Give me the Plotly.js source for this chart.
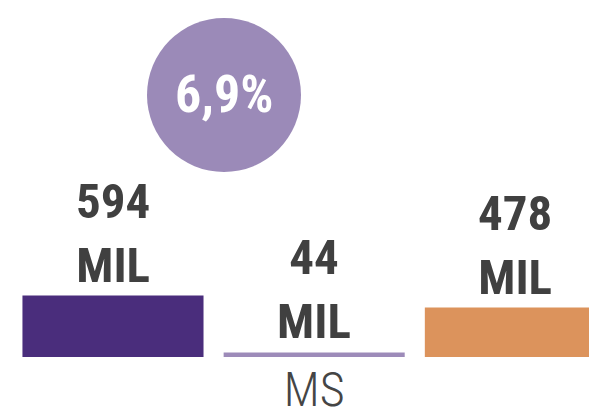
<!DOCTYPE html>
<html>
<head>
<meta charset="utf-8">
<script src="https://cdn.plot.ly/plotly-3.0.1.min.js"></script>
<style>html,body{margin:0;padding:0;background:#fff;}#chart{width:589px;height:412px;}</style>
</head>
<body>
<div id="chart"></div>
<script>
// Data
const categories = ["A", "MS", "C"];
const tickLabels = ["", "MS", ""];
const values = [594, 44, 478];
const unitLabel = "MIL";
const barColors = ["#4a2d7c", "#9d8bb9", "#dc935c"];
const shareText = "6,9%";

const FAMILY = "'Liberation Sans Narrow', 'Roboto Condensed', 'Arial Narrow', Roboto, sans-serif";
const labelFont = {family: FAMILY, size: 49, color: "#404040", weight: 700};

const trace = {
  type: "bar",
  x: categories,
  y: values,
  marker: {color: barColors},
  hoverinfo: "skip"
};

const annotations = categories.map((c, i) => ({
  x: c, y: values[i], xref: "x", yref: "y",
  text: values[i] + "<br>" + unitLabel,
  showarrow: false, yanchor: "bottom", xanchor: "center",
  font: labelFont, align: "center"
}));

annotations.push({
  xref: "paper", yref: "paper", x: 0.3803, y: 0.7339,
  text: shareText, showarrow: false, xanchor: "center", yanchor: "middle",
  font: {family: FAMILY, size: 52, color: "#ffffff", weight: 700}
});

const layout = {
  width: 589, height: 412,
  margin: {l: 0, r: 0, t: 0, b: 55},
  paper_bgcolor: "#ffffff", plot_bgcolor: "#ffffff",
  showlegend: false,
  bargap: 0.1,
  xaxis: {
    type: "category",
    range: [-0.5616, 2.366],
    tickvals: categories, ticktext: tickLabels,
    showgrid: false, zeroline: false, showline: false, ticks: "",
    tickfont: {family: FAMILY, size: 48, color: "#454545", weight: 300},
    fixedrange: true
  },
  yaxis: {
    range: [0, 3448],
    visible: false, showgrid: false, zeroline: false, fixedrange: true
  },
  shapes: [{
    type: "circle", xref: "paper", yref: "paper",
    xsizemode: "pixel", ysizemode: "pixel",
    xanchor: 0.3803, yanchor: 0.7339,
    x0: -77, x1: 77, y0: -77, y1: 77,
    fillcolor: "#9b8ab8", line: {width: 0}, layer: "below"
  }],
  annotations: annotations
};

Plotly.newPlot("chart", [trace], layout, {displayModeBar: false, staticPlot: true});
</script>
</body>
</html>
